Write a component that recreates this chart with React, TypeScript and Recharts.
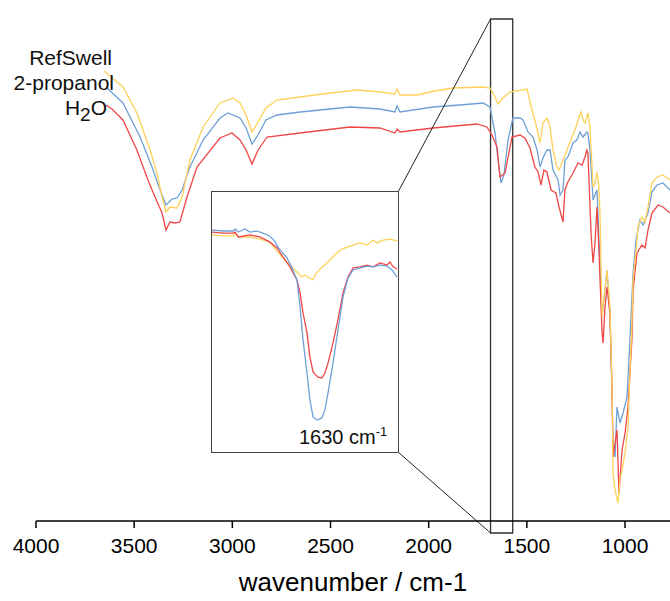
import React from "react";
import { LineChart, Line, XAxis, YAxis, ReferenceArea, ReferenceLine } from "recharts";

// main spectrum, wavenumber (cm-1) vs. transmittance (a.u.)
const refSwellWn = [3654, 3557, 3486, 3419, 3384, 3358, 3338, 3318, 3282, 3256, 3216, 3149, 3063, 2997, 2961, 2930, 2900, 2869, 2829, 2773, 2655, 2503, 2365, 2248, 2172, 2161, 2146, 2060, 1968, 1876, 1723, 1688, 1667, 1647, 1622, 1586, 1499, 1474, 1459, 1433, 1418, 1398, 1382, 1367, 1347, 1336, 1316, 1296, 1270, 1255, 1240, 1224, 1214, 1204, 1189, 1179, 1168, 1163, 1153, 1143, 1133, 1127, 1117, 1092, 1077, 1066, 1061, 1051, 1036, 1026, 1015, 1000, 985, 975, 965, 959, 949, 939, 934, 914, 898, 883, 863, 837, 807, 771];
const refSwellT = [90.0, 86.8, 81.6, 74.2, 69.6, 64.8, 61.8, 62.8, 62.6, 64.8, 72.2, 78.8, 83.6, 84.6, 83.6, 81.2, 77.8, 79.8, 82.6, 84.2, 84.8, 85.6, 86.2, 85.8, 85.4, 86.4, 85.2, 85.2, 86.0, 86.6, 86.8, 86.6, 85.2, 83.4, 84.6, 85.8, 86.4, 82.2, 80.2, 75.6, 79.6, 80.6, 78.8, 74.2, 70.8, 70.2, 72.2, 74.2, 76.8, 78.2, 80.2, 81.8, 80.2, 79.6, 81.6, 78.8, 70.8, 66.8, 67.6, 69.8, 66.8, 60.8, 40.8, 50.2, 42.8, 26.2, 9.6, 6.2, 3.6, 8.2, 10.2, 13.6, 18.8, 29.6, 39.6, 48.2, 52.2, 56.2, 58.8, 60.8, 59.8, 62.8, 67.6, 68.8, 69.2, 68.2];

const propanolWn = [3638, 3557, 3470, 3409, 3368, 3338, 3307, 3282, 3256, 3216, 3149, 3063, 3022, 2961, 2930, 2900, 2869, 2829, 2773, 2655, 2503, 2401, 2248, 2172, 2161, 2146, 1978, 1841, 1723, 1688, 1662, 1647, 1632, 1617, 1596, 1571, 1535, 1520, 1494, 1469, 1448, 1433, 1418, 1398, 1382, 1367, 1341, 1331, 1316, 1306, 1291, 1265, 1245, 1229, 1214, 1194, 1189, 1179, 1168, 1163, 1143, 1138, 1117, 1092, 1077, 1066, 1061, 1051, 1041, 1026, 1010, 990, 975, 959, 944, 924, 908, 883, 863, 837, 807, 771];
const propanolT = [86.6, 83.6, 76.8, 70.8, 66.2, 63.2, 64.4, 64.6, 66.2, 70.8, 76.2, 80.6, 81.6, 80.6, 78.6, 75.4, 77.2, 80.2, 81.2, 81.8, 82.4, 82.8, 82.4, 81.8, 83.0, 81.8, 82.8, 83.2, 83.6, 82.8, 77.6, 72.2, 67.6, 69.2, 76.2, 80.6, 80.6, 80.2, 77.8, 76.8, 74.2, 70.8, 72.6, 74.2, 74.2, 70.2, 68.2, 65.2, 66.2, 72.2, 72.8, 75.6, 76.2, 77.8, 76.8, 77.8, 77.6, 74.2, 67.6, 64.2, 66.2, 61.6, 40.8, 50.2, 41.6, 24.2, 14.8, 12.8, 22.8, 19.6, 21.6, 24.8, 36.2, 49.6, 56.2, 60.2, 59.2, 61.6, 65.8, 67.2, 67.6, 66.2];

const waterWn = [3643, 3613, 3557, 3486, 3430, 3394, 3358, 3338, 3318, 3292, 3267, 3231, 3180, 3063, 3002, 2961, 2930, 2900, 2869, 2823, 2655, 2401, 2248, 2172, 2161, 2146, 1978, 1754, 1703, 1678, 1652, 1637, 1611, 1576, 1535, 1510, 1484, 1459, 1443, 1428, 1413, 1398, 1377, 1352, 1336, 1316, 1306, 1291, 1265, 1240, 1219, 1204, 1194, 1189, 1173, 1163, 1153, 1143, 1133, 1117, 1112, 1102, 1092, 1077, 1066, 1061, 1041, 1031, 1015, 1000, 985, 975, 965, 959, 939, 914, 898, 883, 863, 832, 807, 771];
const waterT = [83.2, 82.4, 80.2, 74.2, 68.2, 64.8, 61.6, 58.2, 59.8, 59.6, 59.8, 64.8, 70.8, 76.6, 77.6, 76.2, 74.2, 71.4, 74.2, 76.8, 77.6, 78.8, 78.6, 77.6, 78.4, 77.8, 78.6, 79.4, 78.8, 77.2, 74.8, 68.8, 69.6, 76.8, 77.2, 76.6, 74.6, 70.8, 69.8, 67.2, 70.2, 69.8, 66.2, 65.6, 62.8, 59.8, 66.2, 67.8, 69.6, 71.6, 71.2, 72.8, 74.2, 73.6, 57.6, 51.6, 55.6, 62.8, 54.2, 37.6, 35.6, 42.8, 46.8, 41.6, 26.2, 12.8, 18.2, 5.6, 14.2, 17.6, 22.8, 29.6, 36.2, 46.2, 53.6, 55.2, 54.6, 58.2, 61.6, 63.2, 62.8, 61.6];

// inset, 1685 - 1572 cm-1
const insetRefSwellWn = [1685, 1678, 1672, 1671, 1669, 1662, 1656, 1650, 1645, 1640.7, 1636.4, 1633.4, 1630.3, 1628.5, 1626.7, 1623.6, 1622.4, 1619.4, 1615.1, 1611.5, 1607.2, 1603, 1599.3, 1595.1, 1590.8, 1587.2, 1584.8, 1581.1, 1576.9, 1572.6];
const insetRefSwellT = [83.5, 83.1, 83.1, 84.2, 82.7, 82.7, 81.9, 80.8, 76.9, 73.8, 71.2, 69.2, 67.3, 68.1, 67.3, 66.2, 68.1, 70.4, 72.7, 75.0, 77.7, 78.8, 79.6, 80.4, 79.6, 81.5, 80.4, 81.5, 81.9, 81.2];

const insetPropanolWn = [1685, 1678, 1672, 1671, 1669, 1665, 1662, 1658, 1654, 1650, 1647, 1644.9, 1642.5, 1639.4, 1636.4, 1633.4, 1631.5, 1629.7, 1627.3, 1625.5, 1623.6, 1621.2, 1618.2, 1616.4, 1614.5, 1611.5, 1608.5, 1605.4, 1602.4, 1599.3, 1595.1, 1590.8, 1587.2, 1582.9, 1578.7, 1575.6, 1572.6];
const insetPropanolT = [85.3, 85.0, 85.0, 85.8, 84.6, 85.8, 84.6, 85.0, 84.2, 83.1, 81.2, 78.8, 76.9, 74.6, 70.8, 66.2, 55.8, 43.1, 30.4, 20.0, 13.5, 12.3, 13.1, 16.2, 22.7, 34.2, 46.9, 59.6, 66.9, 70.0, 70.8, 71.5, 71.2, 71.9, 71.5, 70.0, 67.3];

const insetWaterWn = [1685, 1678, 1672, 1671, 1669, 1662, 1656, 1650, 1645.5, 1641.9, 1637.6, 1633.4, 1631.5, 1629.7, 1627.3, 1625.5, 1623.6, 1620.6, 1618.2, 1616.4, 1614.5, 1611.5, 1608.5, 1605.4, 1602.4, 1599.3, 1595.1, 1590.8, 1587.2, 1582.9, 1578.7, 1576.9, 1575, 1572.6];
const insetWaterT = [84.6, 84.2, 84.2, 84.6, 82.7, 83.5, 82.7, 80.8, 78.5, 75.0, 71.2, 66.2, 61.2, 53.5, 45.8, 36.5, 30.8, 28.8, 28.5, 30.4, 34.2, 41.9, 50.8, 61.2, 67.3, 70.8, 71.2, 71.9, 71.2, 72.7, 71.9, 73.1, 71.2, 70.4];

const xTicks = [4000, 3500, 3000, 2500, 2000, 1500, 1000];

const zoomFrom = 1685;
const zoomTo = 1572;

const YELLOW = "#FFD15A";
const BLUE = "#6EA0D7";
const RED = "#F04646";
const FONT = "Arial, 'Liberation Sans', sans-serif";

const toRows = (wn: number[], t: number[]) => wn.map((w, i) => ({ w, t: t[i] }));

export default function App() {
  const main = [
    { name: "2-propanol", color: BLUE, data: toRows(propanolWn, propanolT) },
    { name: "H2O", color: RED, data: toRows(waterWn, waterT) },
    { name: "RefSwell", color: YELLOW, data: toRows(refSwellWn, refSwellT) }
  ];
  const inset = [
    { name: "RefSwell", color: YELLOW, data: toRows(insetRefSwellWn, insetRefSwellT) },
    { name: "H2O", color: RED, data: toRows(insetWaterWn, insetWaterT) },
    { name: "2-propanol", color: BLUE, data: toRows(insetPropanolWn, insetPropanolT) }
  ];

  const labelStyle: React.CSSProperties = {
    position: "absolute",
    fontFamily: FONT,
    fontSize: 21,
    lineHeight: "22px",
    color: "#111",
    whiteSpace: "nowrap"
  };

  return (
    <div style={{ position: "relative", width: 670, height: 601, background: "#fff" }}>
      <style>{`body{margin:0}`}</style>
      <LineChart width={670} height={601} margin={{ top: 21, right: 0, bottom: 5, left: 36 }}>
        <XAxis
          dataKey="w"
          type="number"
          domain={[771, 4000]}
          reversed
          ticks={xTicks}
          allowDataOverflow
          height={75}
          tickSize={7}
          tickMargin={10}
          axisLine={{ stroke: "#000", strokeWidth: 1.5 }}
          tickLine={{ stroke: "#000", strokeWidth: 1.5 }}
          tick={{ fill: "#000", fontSize: 21, fontFamily: FONT }}
          label={{ value: "wavenumber / cm-1", position: "insideBottom", offset: 5, fill: "#000", fontSize: 26, fontFamily: FONT }}
        />
        <YAxis hide type="number" domain={[0, 100]} />
        {main.map((s) => (
          <Line
            key={s.name}
            data={s.data}
            dataKey="t"
            name={s.name}
            type="linear"
            stroke={s.color}
            strokeWidth={1.3}
            dot={false}
            isAnimationActive={false}
          />
        ))}
        <ReferenceArea x1={zoomFrom} x2={zoomTo} y1={-2.4} y2={100.4} ifOverflow="visible" fill="none" stroke="#333" strokeWidth={1.3} />
        <ReferenceLine segment={[{ x: zoomFrom, y: 100.4 }, { x: 2156, y: 65.8 }]} ifOverflow="visible" stroke="#222" strokeWidth={1} />
        <ReferenceLine segment={[{ x: zoomFrom, y: -2.4 }, { x: 2156, y: 13.8 }]} ifOverflow="visible" stroke="#222" strokeWidth={1} />
      </LineChart>

      <div style={{ ...labelStyle, right: 670 - 112, top: 47 }}>RefSwell</div>
      <div style={{ ...labelStyle, right: 670 - 114, top: 72 }}>2-propanol</div>
      <div style={{ ...labelStyle, right: 670 - 107, top: 97 }}>
        H<sub style={{ fontSize: 19, verticalAlign: "-6px", lineHeight: 0 }}>2</sub>O
      </div>

      <div
        style={{
          position: "absolute",
          left: 211,
          top: 191,
          width: 188,
          height: 262,
          boxSizing: "border-box",
          border: "1.3px solid #444",
          background: "#fff"
        }}
      >
        <LineChart width={186} height={260} margin={{ top: 0, right: 0, bottom: 0, left: 0 }}>
          <XAxis hide dataKey="w" type="number" domain={[zoomTo, zoomFrom]} reversed allowDataOverflow />
          <YAxis hide type="number" domain={[0, 100]} />
          {inset.map((s) => (
            <Line
              key={s.name}
              data={s.data}
              dataKey="t"
              name={s.name}
              type="linear"
              stroke={s.color}
              strokeWidth={1.3}
              dot={false}
              isAnimationActive={false}
            />
          ))}
        </LineChart>
        <div style={{ ...labelStyle, fontSize: 20, left: 87, top: 234 }}>
          1630 cm<sup style={{ fontSize: 13, verticalAlign: "8px", lineHeight: 0 }}>-1</sup>
        </div>
      </div>
    </div>
  );
}
